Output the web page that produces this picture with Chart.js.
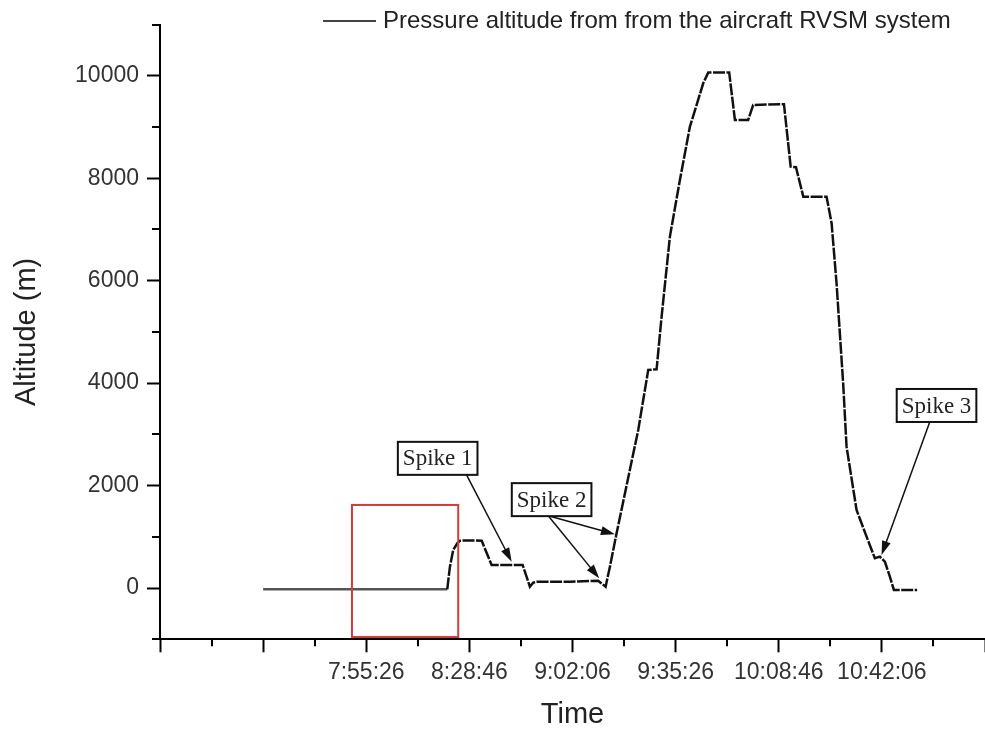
<!DOCTYPE html>
<html>
<head>
<meta charset="utf-8">
<script src="https://cdn.jsdelivr.net/npm/chart.js@4.4.0/dist/chart.umd.min.js"></script>
<style>
    html, body { margin: 0; padding: 0; background: #ffffff; overflow: hidden; }
    canvas { display: block; }
</style>
</head>
<body>
<canvas id="altChart" width="985" height="733"></canvas>
<script>
// Time is stored as seconds after 6:48:46 (the left end of the axis)
const TIME_ORIGIN = 6 * 3600 + 48 * 60 + 46;

// Pressure altitude trace
const times = [
    2000, 5571, 5623, 5687, 5765, 5817, 6030, 6238, 6431, 7033,
    7174, 7238, 7304, 7950, 8497, 8642, 8726, 8855, 9275, 9469,
    9631, 9728, 9889, 10083, 10277, 10407, 10535, 10632, 11039, 11150,
    11407, 11504, 12101, 12231, 12334, 12476, 12927, 13025, 13121, 13249,
    13315, 13509, 13703, 13864, 13961, 14058, 14155, 14233, 14684
];
const altitudes = [
    -25, -25, 418, 744, 875, 925, 930, 925, 451, 451,
    27, 105, 125, 125, 144, 27, 418, 1070, 3087, 4258,
    4271, 5298, 6859, 7966, 9006, 9430, 9853, 10061, 10061, 9137,
    9137, 9430, 9444, 8226, 8214, 7640, 7640, 7121, 5950, 3998,
    2760, 1524, 1003, 582, 613, 515, 223, -37, -37
];

// Axis ranges and labelled ticks
const xRange = [0, 16000];
const yRange = [-1000, 11000];
const xLabelTicks = [4000, 6000, 8000, 10000, 12000, 14000];
const yLabelTicks = [0, 2000, 4000, 6000, 8000, 10000];

// Red highlight window (time, altitude)
const boxTimes = [3723, 5784];
const boxAlts = [-955, 1622];

// Spike call-outs: label centre and arrow tails/heads in data units
const spikes = [
    { text: 'Spike 1', at: [5385, 2532], arrows: [[[5945, 2208], [6820, 515]]] },
    { text: 'Spike 2', at: [7595, 1726], arrows: [[[7529, 1410], [8822, 1050]], [[7529, 1410], [8518, 191]]] },
    { text: 'Spike 3', at: [15060, 3564], arrows: [[[14930, 3248], [13994, 646]]] }
];

const legendText = 'Pressure altitude from from the aircraft RVSM system';

function formatTime(sec) {
    const s = TIME_ORIGIN + sec;
    const h = Math.floor(s / 3600);
    const m = Math.floor((s % 3600) / 60);
    const ss = s % 60;
    return h + ':' + String(m).padStart(2, '0') + ':' + String(ss).padStart(2, '0');
}

const SANS = '"Liberation Sans", Arial, sans-serif';
const SERIF = '"Liberation Serif", "Times New Roman", serif';

function drawArrow(ctx, x0, y0, x1, y1) {
    const ang = Math.atan2(y1 - y0, x1 - x0);
    const len = 14, half = 4.5;
    ctx.beginPath();
    ctx.moveTo(x0, y0);
    ctx.lineTo(x1 - Math.cos(ang) * len * 0.8, y1 - Math.sin(ang) * len * 0.8);
    ctx.stroke();
    ctx.beginPath();
    ctx.moveTo(x1, y1);
    ctx.lineTo(x1 - Math.cos(ang) * len - Math.sin(ang) * half, y1 - Math.sin(ang) * len + Math.cos(ang) * half);
    ctx.lineTo(x1 - Math.cos(ang) * len + Math.sin(ang) * half, y1 - Math.sin(ang) * len - Math.cos(ang) * half);
    ctx.closePath();
    ctx.fill();
}

// Minor ticks, red window, call-outs and legend
const extras = {
    id: 'extras',
    afterDraw(chart) {
        const { ctx, scales: { x, y } } = chart;
        ctx.save();

        // Minor ticks (every 1000 units, short)
        ctx.strokeStyle = '#000';
        ctx.lineWidth = 2;
        x.ticks.forEach(t => {
            if (t.value % 2000 !== 0) {
                const px = Math.round(x.getPixelForValue(t.value));
                ctx.beginPath();
                ctx.moveTo(px, x.top);
                ctx.lineTo(px, x.top + 7);
                ctx.stroke();
            }
        });
        y.ticks.forEach(t => {
            if (t.value % 2000 !== 0) {
                const py = Math.round(y.getPixelForValue(t.value));
                ctx.beginPath();
                ctx.moveTo(y.right - 8, py);
                ctx.lineTo(y.right, py);
                ctx.stroke();
            }
        });

        // Red window
        const bx0 = x.getPixelForValue(boxTimes[0]);
        const bx1 = x.getPixelForValue(boxTimes[1]);
        const by0 = y.getPixelForValue(boxAlts[1]);
        const by1 = y.getPixelForValue(boxAlts[0]);
        ctx.strokeStyle = '#d23c3c';
        ctx.lineWidth = 2;
        ctx.strokeRect(bx0, by0, bx1 - bx0, by1 - by0);

        // Spike call-outs
        ctx.font = '23px ' + SERIF;
        ctx.textAlign = 'center';
        ctx.textBaseline = 'middle';
        spikes.forEach(s => {
            ctx.strokeStyle = '#111';
            ctx.fillStyle = '#111';
            ctx.lineWidth = 1.5;
            s.arrows.forEach(a => {
                drawArrow(ctx,
                    x.getPixelForValue(a[0][0]), y.getPixelForValue(a[0][1]),
                    x.getPixelForValue(a[1][0]), y.getPixelForValue(a[1][1]));
            });
            const cx = x.getPixelForValue(s.at[0]);
            const cy = y.getPixelForValue(s.at[1]);
            const w = ctx.measureText(s.text).width + 10;
            const h = 33;
            ctx.fillStyle = '#ffffff';
            ctx.fillRect(cx - w / 2, cy - h / 2, w, h);
            ctx.lineWidth = 2;
            ctx.strokeStyle = '#111';
            ctx.strokeRect(cx - w / 2, cy - h / 2, w, h);
            ctx.fillStyle = '#222';
            ctx.fillText(s.text, cx, cy + 1);
        });

        // Legend
        ctx.strokeStyle = '#444';
        ctx.lineWidth = 2;
        ctx.beginPath();
        ctx.moveTo(323, 21);
        ctx.lineTo(376, 21);
        ctx.stroke();
        ctx.font = '24px ' + SANS;
        ctx.textAlign = 'left';
        ctx.fillStyle = '#222';
        ctx.fillText(legendText, 383, 21);

        ctx.restore();
    }
};

const points = times.map((t, i) => ({ x: t, y: altitudes[i] }));

const ctx = document.getElementById('altChart').getContext('2d');
const altChart = new Chart(ctx, {
    type: 'line',
    data: {
        datasets: [{
            label: legendText,
            data: points,
            borderColor: '#111',
            borderWidth: 2.5,
            pointRadius: 0,
            tension: 0,
            fill: false,
            segment: {
                borderColor: c => c.p0.parsed.x < 5000 ? '#555' : '#111',
                borderDash: c => c.p0.parsed.x < 5000 ? [] : [12, 1.5]
            }
        }]
    },
    options: {
        responsive: false,
        animation: false,
        events: [],
        layout: { padding: { top: 24.5, left: 0, right: 0, bottom: 0 } },
        plugins: {
            legend: { display: false },
            tooltip: { enabled: false }
        },
        scales: {
            x: {
                type: 'linear',
                min: xRange[0],
                max: xRange[1],
                afterFit: scale => {
                    scale.height = 93.7;
                    scale.paddingLeft = 0;
                    scale.paddingRight = 0;
                },
                border: { display: true, color: '#000', width: 2 },
                grid: {
                    drawOnChartArea: false,
                    drawTicks: true,
                    tickLength: 13,
                    tickWidth: 2,
                    tickColor: c => (c.tick && c.tick.value % 2000 === 0) ? '#000' : 'rgba(0,0,0,0)'
                },
                ticks: {
                    stepSize: 1000,
                    autoSkip: false,
                    maxRotation: 0,
                    padding: 7,
                    color: '#333',
                    font: { family: SANS, size: 23 },
                    callback: v => xLabelTicks.includes(v) ? formatTime(v) : ''
                },
                title: {
                    display: true,
                    text: 'Time',
                    color: '#222',
                    font: { family: SANS, size: 29 },
                    padding: { top: 0, bottom: 0.6 }
                }
            },
            y: {
                min: yRange[0],
                max: yRange[1],
                afterFit: scale => {
                    scale.width = 160;
                    scale.paddingTop = 0;
                    scale.paddingBottom = 0;
                },
                border: { display: true, color: '#000', width: 2 },
                grid: {
                    drawOnChartArea: false,
                    drawTicks: true,
                    tickLength: 13,
                    tickWidth: 2,
                    tickColor: c => (c.tick && c.tick.value % 2000 === 0) ? '#000' : 'rgba(0,0,0,0)'
                },
                ticks: {
                    stepSize: 1000,
                    autoSkip: false,
                    padding: 8,
                    color: '#333',
                    font: { family: SANS, size: 23 },
                    callback: v => yLabelTicks.includes(v) ? String(v) : ''
                },
                title: {
                    display: true,
                    text: 'Altitude (m)',
                    color: '#222',
                    font: { family: SANS, size: 29 },
                    padding: { top: 9.6, bottom: 0 }
                }
            }
        }
    },
    plugins: [extras]
});
</script>
</body>
</html>
